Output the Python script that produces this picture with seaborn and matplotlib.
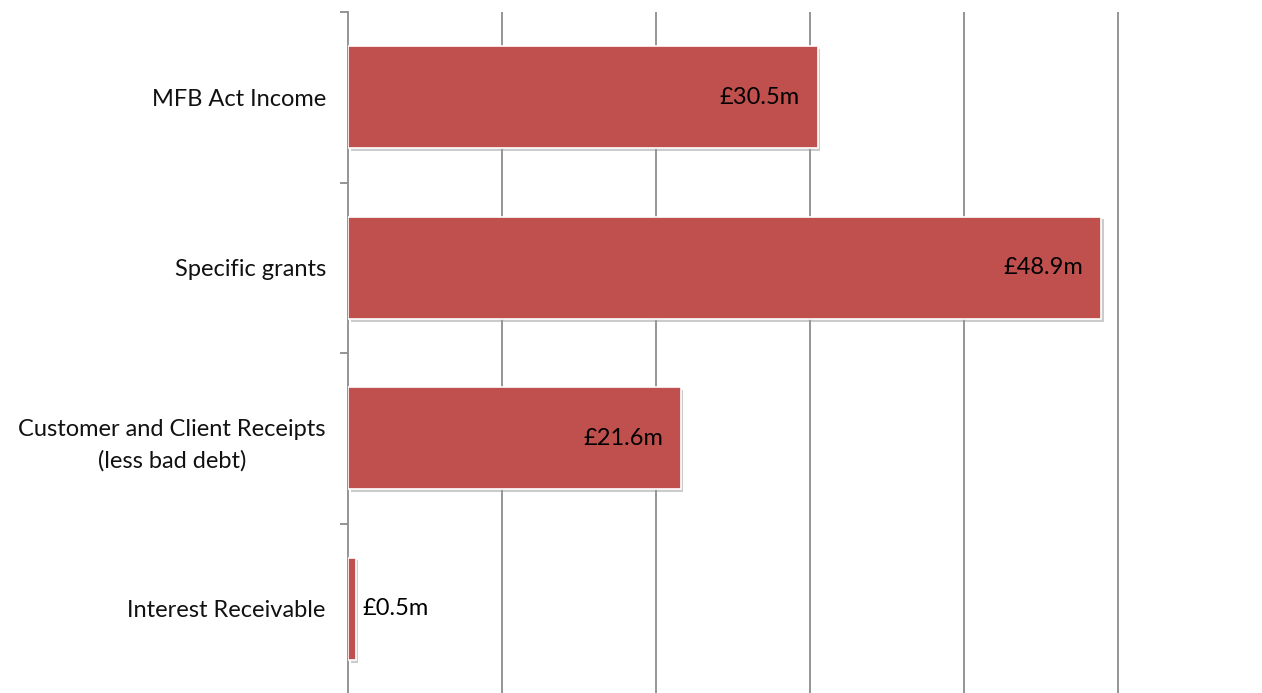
import matplotlib
matplotlib.use("Agg")
import matplotlib.pyplot as plt
import matplotlib.patheffects as pe
import seaborn as sns
import pandas as pd

categories = ["MFB Act Income", "Specific grants",
              "Customer and Client Receipts\n(less bad debt)", "Interest Receivable"]
values = [30.5, 48.9, 21.6, 0.5]
labels = ["£30.5m", "£48.9m", "£21.6m", "£0.5m"]

sns.set_style("white")
plt.rcParams['font.family'] = ['Lato', 'DejaVu Sans']

df = pd.DataFrame({"category": categories, "value": values})

fig = plt.figure(figsize=(12.62, 6.93), dpi=100)
ax = fig.add_axes([348/1262, 1 - 694/693, (1262-348)/1262, (694-12)/693])

sns.barplot(data=df, y="category", x="value", orient="h", color="#C0504D",
            saturation=1, width=0.6, edgecolor="white", linewidth=1.2, ax=ax, zorder=3)

for p in ax.patches:
    p.set_path_effects([pe.SimplePatchShadow(offset=(2, -2), shadow_rgbFace="#999999", alpha=0.5),
                        pe.Normal()])

ax.set_xlim(0, 59.35)
ax.set_ylim(3.5, -0.5)
ax.set_xticks([10, 20, 30, 40, 50])
ax.set_xticklabels([])
ax.tick_params(axis="x", length=0)
ax.grid(axis="x", color="#8c8c8c", linewidth=1.3, zorder=0)
ax.set_axisbelow(True)

ax.set_yticks([-0.5, 0.5, 1.5, 2.5, 3.5], minor=False)
ax.set_yticklabels([])
ax.set_yticks([0, 1, 2, 3], minor=True)
ax.set_yticklabels(categories, minor=True, fontsize=17, color="#111111", linespacing=1.55)
ax.tick_params(axis="y", which="major", left=True, length=6, width=1.3, color="#8c8c8c", direction="out")
ax.tick_params(axis="y", which="minor", left=True, length=0, pad=16)
for t in ax.get_yticklabels(minor=True):
    t.set_horizontalalignment("right")
    t.set_multialignment("center")

ax.set_xlabel("")
ax.set_ylabel("")
for s in ["top", "right", "bottom"]:
    ax.spines[s].set_visible(False)
ax.spines["left"].set_color("#8c8c8c")
ax.spines["left"].set_linewidth(1.3)

for i, (v, lab) in enumerate(zip(values, labels)):
    if v > 5:
        ax.text(v - 1.15, i, lab, ha="right", va="center", fontsize=17, color="black", zorder=5)
    else:
        ax.text(v + 0.45, i, lab, ha="left", va="center", fontsize=17, color="black", zorder=5)

fig.savefig("out.png", dpi=100)
